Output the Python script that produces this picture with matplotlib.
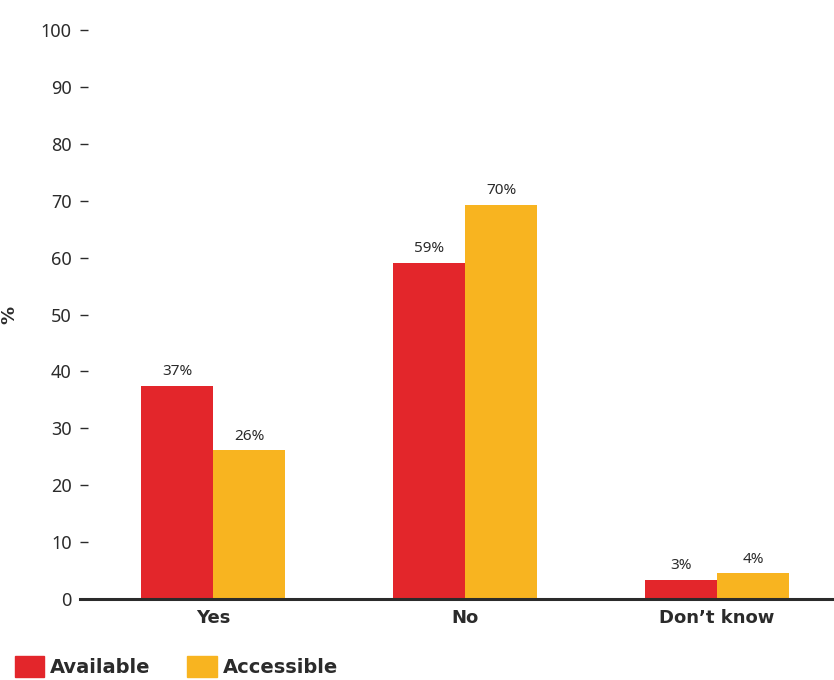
import numpy as np
import matplotlib.pyplot as plt
from matplotlib.patches import Patch

# dados
categorias = ['Yes', 'No', 'Don\u2019t know']
available = [37.4, 59.1, 3.3]
accessible = [26.1, 69.3, 4.5]
rotulos_available = ['37%', '59%', '3%']
rotulos_accessible = ['26%', '70%', '4%']
yticks = [0, 10, 20, 30, 40, 50, 60, 70, 80, 90, 100]

vermelho = '#E3262B'
amarelo = '#F8B420'
texto = '#2b2b2b'

plt.rcParams['font.family'] = ['Noto Sans', 'DejaVu Sans']
negrito = {'family': 'DejaVu Sans', 'weight': 'bold'}

fig = plt.figure(figsize=(8.34, 6.8), dpi=100)
ax = fig.add_axes([80 / 834, 1 - 599 / 680, 754 / 834, 569 / 680])

x = np.arange(len(categorias))
w = 0.286

b1 = ax.bar(x - w / 2, available, w, color=vermelho)
b2 = ax.bar(x + w / 2, accessible, w, color=amarelo)

# rotulos em cima das barras
for barra, rot in zip(b1, rotulos_available):
    ax.text(barra.get_x() + barra.get_width() / 2, barra.get_height() + 1.2, rot,
            ha='center', va='bottom', fontsize=11, color=texto)
for barra, rot in zip(b2, rotulos_accessible):
    ax.text(barra.get_x() + barra.get_width() / 2, barra.get_height() + 1.2, rot,
            ha='center', va='bottom', fontsize=11, color=texto)

ax.set_xlim(-0.528, 2.464)
ax.set_ylim(0, 100)
ax.set_yticks(yticks)
ax.set_xticks(x)
ax.set_xticklabels(categorias, fontsize=13, color=texto, **negrito)

for lado in ['top', 'right', 'left']:
    ax.spines[lado].set_visible(False)
ax.spines['bottom'].set_linewidth(2.2)
ax.spines['bottom'].set_color(texto)

ax.tick_params(axis='y', direction='in', length=6, width=1, color=texto,
               labelsize=13, labelcolor=texto, pad=6)
ax.tick_params(axis='x', length=0, pad=7)

ax.set_ylabel('%', fontsize=13, color=texto, **negrito)
ax.yaxis.set_label_coords(-0.082, 0.5)

# legenda embaixo
handles = [Patch(color=vermelho), Patch(color=amarelo)]
fig.legend(handles, ['Available', 'Accessible'], loc='lower left',
           bbox_to_anchor=(-0.003, -0.022), ncol=2, frameon=False,
           prop={'family': 'DejaVu Sans', 'weight': 'bold', 'size': 14},
           handlelength=1.5, handleheight=1.35, handletextpad=0.3,
           columnspacing=1.9, labelcolor=texto)

fig.savefig('out.png', dpi=100)
